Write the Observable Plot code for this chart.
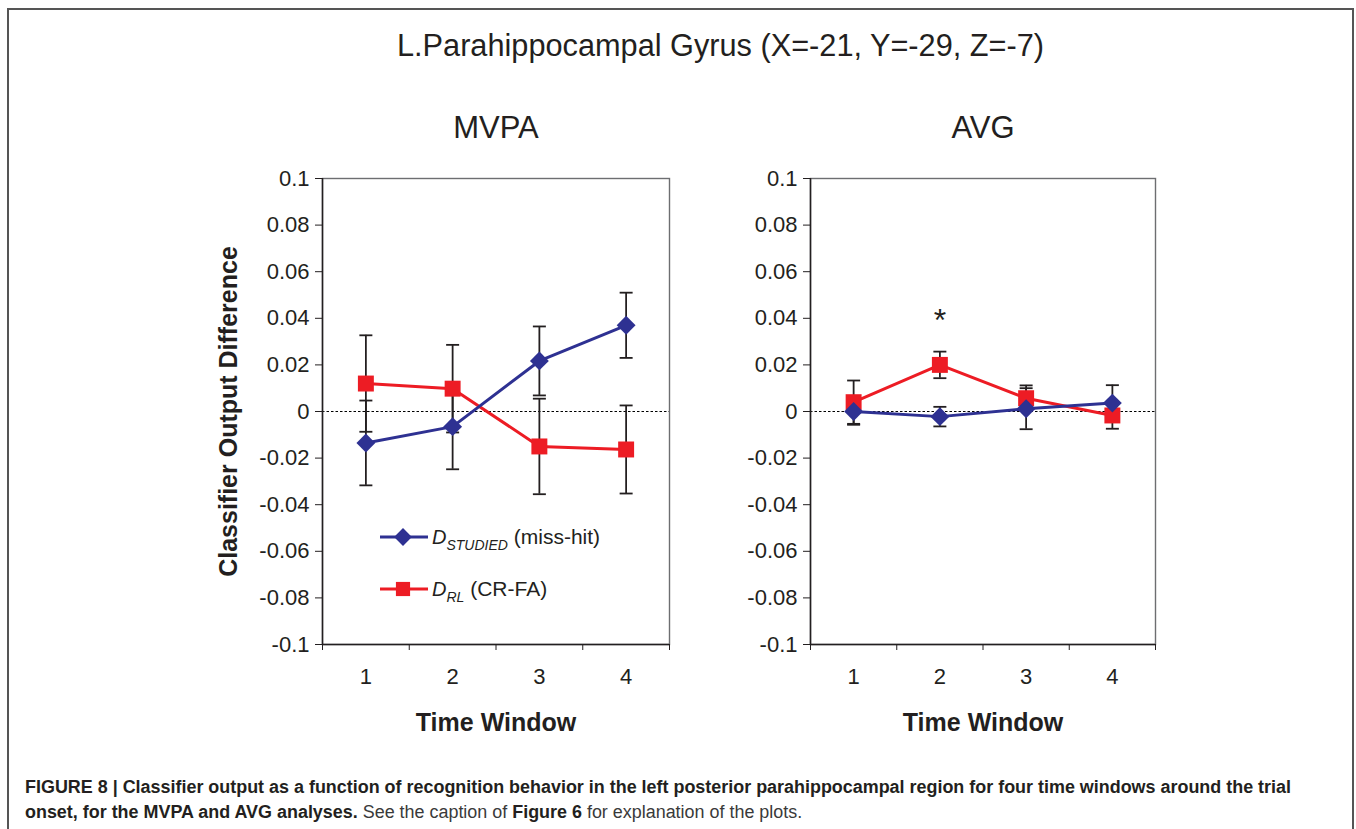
<!DOCTYPE html>
<html>
<head>
<meta charset="utf-8">
<script src="https://cdn.jsdelivr.net/npm/d3@7"></script>
<script src="https://cdn.jsdelivr.net/npm/@observablehq/plot@0.6"></script>
<style>
  html, body { margin: 0; padding: 0; background: #fff; }
  #page { position: relative; width: 1356px; height: 829px; overflow: hidden; font-family: "Liberation Sans", Arial, sans-serif; color: #231f20; }
  #frame { position: absolute; left: 7px; top: 8px; width: 1343px; height: 900px; border-top: 2px solid #555; border-left: 2px solid #555; border-right: 2px solid #555; }
  #title { position: absolute; left: 397px; top: 28px; transform-origin: 0 0; white-space: nowrap; font-family: "Liberation Sans", Arial, sans-serif; font-size: 31px; line-height: 36px; color: #231f20; }
  .panel { position: absolute; top: 100px; }
  #legend { position: absolute; left: 370px; top: 515px; }
  .capline { position: absolute; left: 25px; white-space: nowrap; transform-origin: 0 0; font-family: "Liberation Sans", Arial, sans-serif; font-size: 18px; line-height: 25px; color: #231f20; }
  .capline b { font-weight: bold; }
  .capline .reg { color: #3a3a3a; }
</style>
</head>
<body>
<div id="page">
  <div id="frame"></div>
  <div id="title"></div>
  <div id="left" class="panel" style="left:200px"></div>
  <div id="right" class="panel" style="left:700px"></div>
  <div id="legend"></div>
  <div id="cap1" class="capline" style="top:775px"></div>
  <div id="cap2" class="capline" style="top:800px"></div>
</div>
<script>
// ---------------- data ----------------
const chartTitle = "L.Parahippocampal Gyrus (X=-21, Y=-29, Z=-7)";
const panelTitles = ["MVPA", "AVG"];
const windows = [1, 2, 3, 4];
const xTickLabels = ["1", "2", "3", "4"];
const xAxisTitle = "Time Window";
const yAxisTitle = "Classifier Output Difference";
const yTicks = [0.1, 0.08, 0.06, 0.04, 0.02, 0, -0.02, -0.04, -0.06, -0.08, -0.1];
const yTickLabels = ["0.1", "0.08", "0.06", "0.04", "0.02", "0", "-0.02", "-0.04", "-0.06", "-0.08", "-0.1"];

// MVPA panel
const mvpaStudied    = [-0.0135, -0.0065, 0.0217, 0.0370];
const mvpaStudiedErr = [0.0182, 0.0183, 0.0148, 0.0140];
const mvpaRL         = [0.0120, 0.0098, -0.0150, -0.0163];
const mvpaRLErr      = [0.0207, 0.0188, 0.0205, 0.0189];

// AVG panel
const avgStudied    = [0.0000, -0.0022, 0.0012, 0.0036];
const avgStudiedErr = [0.0057, 0.0042, 0.0088, 0.0077];
const avgRL         = [0.0040, 0.0200, 0.0057, -0.0017];
const avgRLErr      = [0.0093, 0.0057, 0.0055, 0.0057];

// significance marker (AVG panel)
const sigWindows = [2];
const sigY = [0.039];

const seriesMain = ["D", "D"];
const seriesSub = ["STUDIED", "RL"];
const seriesRest = [" (miss-hit)", " (CR-FA)"];

// ---------------- styles ----------------
const BLUE = "#2e3192";
const RED = "#ed1c24";
const INK = "#231f20";
const FONT = "'Liberation Sans', Arial, sans-serif";

const yLabelOf = new Map(yTicks.map((v, i) => [v, yTickLabels[i]]));
const xLabelOf = new Map(windows.map((v, i) => [v, xTickLabels[i]]));
const xDomain = [windows[0] - 0.5, windows[windows.length - 1] + 0.5];
const bounds = windows.map(w => w - 0.5).concat([xDomain[1]]);

const capSymbol = { draw(ctx) { ctx.moveTo(-6.5, 0); ctx.lineTo(6.5, 0); } };

function rows(vals, errs) {
  return windows.map((w, i) => ({ w, v: vals[i], lo: vals[i] - errs[i], hi: vals[i] + errs[i] }));
}

function panel({ title, studied, studiedErr, rl, rlErr, width, marginLeft, marginRight, yLabel, sig }) {
  const st = rows(studied, studiedErr);
  const r = rows(rl, rlErr);
  const all = r.concat(st);
  const marks = [
    Plot.ruleY([0], { stroke: "#000", strokeWidth: 1.2, strokeDasharray: "2.5,2" }),
    Plot.ruleX(all, { x: "w", y1: "lo", y2: "hi", stroke: INK, strokeWidth: 1.8 }),
    Plot.dot(all, { x: "w", y: "lo", symbol: capSymbol, fill: "none", stroke: INK, strokeWidth: 1.8 }),
    Plot.dot(all, { x: "w", y: "hi", symbol: capSymbol, fill: "none", stroke: INK, strokeWidth: 1.8 }),
    Plot.line(r, { x: "w", y: "v", stroke: RED, strokeWidth: 3 }),
    Plot.dot(r, { x: "w", y: "v", symbol: "square", r: 9, fill: RED }),
    Plot.line(st, { x: "w", y: "v", stroke: BLUE, strokeWidth: 3 }),
    Plot.dot(st, { x: "w", y: "v", symbol: "diamond2", r: 8.5, fill: BLUE }),
    Plot.frame({ stroke: "#6d6e71", strokeWidth: 1.4 }),
    Plot.ruleX([xDomain[0]], { stroke: INK, strokeWidth: 1.5 }),
    Plot.ruleY([yTicks[yTicks.length - 1]], { stroke: INK, strokeWidth: 1.5 }),
    Plot.axisY({ ticks: yTicks, tickFormat: d => yLabelOf.get(d), tickSize: 7, tickPadding: 6, fontSize: 22, label: null, stroke: INK }),
    Plot.axisX({ ticks: windows, tickFormat: d => xLabelOf.get(d), tickSize: 0, tickPadding: 24, fontSize: 22, label: null }),
    Plot.axisX({ ticks: bounds, tickFormat: () => "", tickSize: 6, label: null, stroke: INK }),
    Plot.text([title], { frameAnchor: "top", dy: -50, fontSize: 31, lineAnchor: "middle", fill: INK }),
    Plot.text([xAxisTitle], { frameAnchor: "bottom", dy: 78, fontSize: 25, fontWeight: "bold", lineAnchor: "middle", fill: INK })
  ];
  if (yLabel) {
    marks.push(Plot.text([yLabel], { frameAnchor: "left", dx: -94, rotate: -90, fontSize: 25, fontWeight: "bold", lineAnchor: "middle", textAnchor: "middle", fill: INK }));
  }
  if (sig) {
    marks.push(Plot.text(sig, { x: "w", y: "y", text: () => "*", fontSize: 32, lineAnchor: "middle", fill: INK }));
  }
  return Plot.plot({
    width, height: 645,
    marginTop: 78, marginBottom: 101, marginLeft, marginRight,
    x: { domain: xDomain, axis: null },
    y: { domain: [yTicks[yTicks.length - 1], yTicks[0]], axis: null },
    style: { fontFamily: FONT, color: INK, background: "transparent", overflow: "visible" },
    marks
  });
}

// title, condensed to the reference's width
const titleEl = document.getElementById("title");
titleEl.textContent = chartTitle;
titleEl.style.transform = `scaleX(${647 / titleEl.getBoundingClientRect().width})`;

document.getElementById("left").appendChild(panel({
  title: panelTitles[0], studied: mvpaStudied, studiedErr: mvpaStudiedErr, rl: mvpaRL, rlErr: mvpaRLErr,
  width: 480, marginLeft: 122, marginRight: 11, yLabel: yAxisTitle, sig: null
}));

document.getElementById("right").appendChild(panel({
  title: panelTitles[1], studied: avgStudied, studiedErr: avgStudiedErr, rl: avgRL, rlErr: avgRLErr,
  width: 470, marginLeft: 110, marginRight: 15, yLabel: null,
  sig: sigWindows.map((w, i) => ({ w, y: sigY[i] }))
}));

// legend
(function () {
  const svg = d3.select("#legend").append("svg").attr("width", 270).attr("height", 100)
    .style("font-family", FONT).style("overflow", "visible");
  const colors = [BLUE, RED];
  const symbols = [d3.symbolDiamond2, d3.symbolSquare];
  const sizes = [Math.PI * 8 * 8, Math.PI * 8 * 8];
  const ys = [22, 74];
  seriesMain.forEach((m, i) => {
    const g = svg.append("g").attr("transform", `translate(0,${ys[i]})`);
    g.append("line").attr("x1", 10).attr("x2", 58).attr("y1", 0).attr("y2", 0)
      .attr("stroke", colors[i]).attr("stroke-width", 3);
    g.append("path").attr("d", d3.symbol(symbols[i], sizes[i])()).attr("transform", "translate(33,0)").attr("fill", colors[i]);
    const t = g.append("text").attr("x", 62).attr("y", 7).attr("fill", INK).attr("font-size", 20);
    t.append("tspan").attr("font-style", "italic").text(m);
    t.append("tspan").attr("font-style", "italic").attr("font-size", 14).attr("dy", 6).text(seriesSub[i]);
    t.append("tspan").attr("dy", -6).attr("font-size", 21).text(seriesRest[i]);
  });
})();

// caption (condensed typeface look)
const cap1 = document.getElementById("cap1");
const cap2 = document.getElementById("cap2");
cap1.innerHTML = "<b>FIGURE 8 | Classifier output as a function of recognition behavior in the left posterior parahippocampal region for four time windows around the trial</b>";
cap2.innerHTML = "<b>onset, for the MVPA and AVG analyses.</b><span class='reg'> See the caption of </span><b>Figure 6</b><span class='reg'> for explanation of the plots.</span>";
const capScale = 1266 / cap1.getBoundingClientRect().width;
cap1.style.transform = `scaleX(${capScale})`;
cap2.style.transform = `scaleX(${capScale})`;
</script>
</body>
</html>
